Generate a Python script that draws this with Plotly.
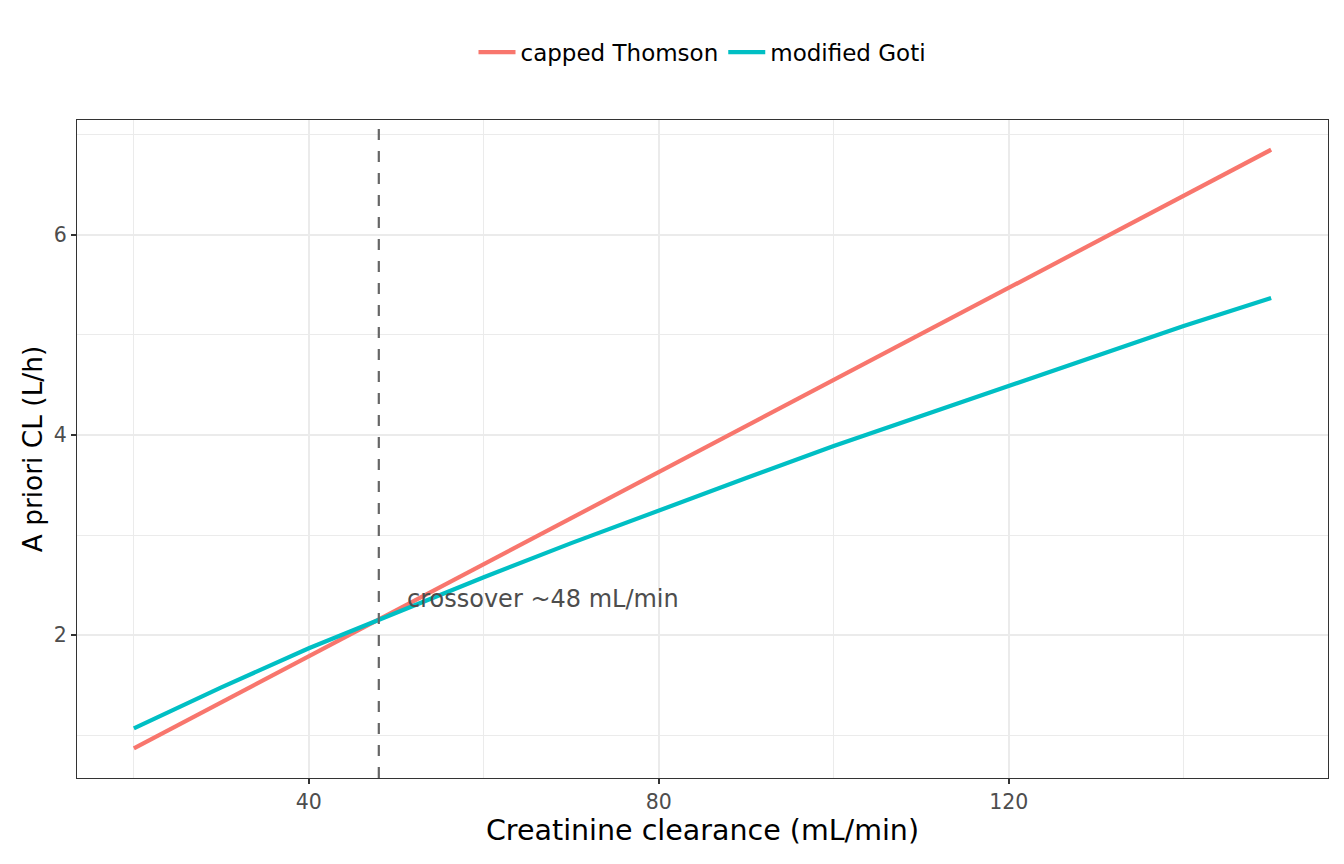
import plotly.graph_objects as go

# creatinine clearance grid (mL/min) and a priori clearance (L/h)
crcl = [20, 30, 40, 50, 60, 70, 80, 90, 100, 110, 120, 130, 140, 150]
thomson_cl = [0.87, 1.33, 1.79, 2.25, 2.71, 3.17, 3.63, 4.09, 4.55, 5.01, 5.47, 5.93, 6.39, 6.85]
goti_cl = [1.07, 1.48, 1.87, 2.23, 2.58, 2.92, 3.25, 3.57, 3.89, 4.19, 4.50, 4.79, 5.09, 5.37]

crossover_x = 48
label_x = 51
label_y = 2.36
label_text = "crossover ~48 mL/min"

font = "DejaVu Sans"

fig = go.Figure()
fig.add_trace(go.Scatter(x=crcl, y=thomson_cl, mode='lines', name='capped Thomson',
                         line=dict(color='#F8766D', width=4.2)))
fig.add_trace(go.Scatter(x=crcl, y=goti_cl, mode='lines', name='modified Goti',
                         line=dict(color='#00BFC4', width=4.2)))

# vertical dashed line at the crossover, spans full panel height
fig.add_shape(type='line', xref='x', yref='paper', x0=crossover_x, x1=crossover_x, y0=0, y1=1,
              line=dict(color='#666666', width=2.2, dash='11px,11px'), layer='above')
fig.add_annotation(x=label_x, y=label_y, text=label_text, showarrow=False, xanchor='left',
                   yanchor='middle', font=dict(family=font, size=24, color='#4d4d4d'))

axis_common = dict(showline=True, mirror=True, linecolor='#333333', linewidth=1.3,
                   ticks='outside', ticklen=5, tickcolor='#333333', tickwidth=1.6,
                   gridcolor='#ebebeb', gridwidth=2.2, zeroline=False,
                   tickfont=dict(family=font, size=20.5, color='#4d4d4d'))

# page body has an 8px margin, so the figure is a bit smaller than the window
fig.update_layout(
    width=1328, height=848,
    template='none',
    paper_bgcolor='white', plot_bgcolor='white',
    margin=dict(l=69, r=8, t=112, b=78),
    font=dict(family=font, color='black'),
    showlegend=True,
    legend=dict(orientation='h', x=0.5, xanchor='center', y=0.948, yanchor='middle',
                yref='container', itemwidth=37, tracegroupgap=0,
                font=dict(family=font, size=23, color='black')),
    xaxis=dict(range=[13.5, 156.5], tick0=0, dtick=40,
               minor=dict(tick0=0, dtick=20, showgrid=True, gridcolor='#ebebeb', gridwidth=1.2, ticklen=0),
               title=dict(text='Creatinine clearance (mL/min)', font=dict(family=font, size=28.5), standoff=3),
               **axis_common),
    yaxis=dict(range=[0.574, 7.147], tick0=0, dtick=2,
               minor=dict(tick0=0, dtick=1, showgrid=True, gridcolor='#ebebeb', gridwidth=1.2, ticklen=0),
               title=dict(text='A priori CL (L/h)', font=dict(family=font, size=26.4), standoff=3),
               **axis_common),
)

fig.write_html("out.html")
